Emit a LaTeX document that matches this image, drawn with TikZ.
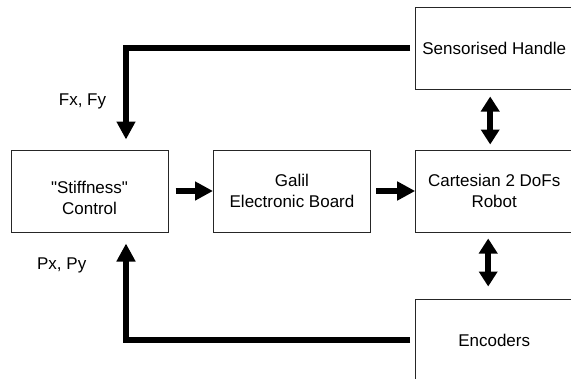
\documentclass[tikz,border=0pt]{standalone}
\usepackage{fontspec}
\setmainfont{Liberation Sans}
\usetikzlibrary{arrows.meta}
\definecolor{boxline}{gray}{0.15}

\begin{document}
\begin{tikzpicture}[x=1pt,y=-1pt,
	block/.style={draw=boxline, line width=1pt, minimum width=157pt, minimum height=82pt, inner sep=0pt},
	blocktext/.style={align=center, font=\fontsize{17}{21.5}\selectfont},
	flow/.style={line width=6pt, -{Triangle[width=18pt,length=18pt]}},
	both/.style={line width=6pt, {Triangle[width=18pt,length=15pt]}-{Triangle[width=18pt,length=15pt]}}]
	\useasboundingbox (0,0) rectangle (571,378);
	
	% Blocks
	\node[block] (stiff) at (89.5,191) {};
	\node[blocktext] (stifftext) at (89.5,198) {\textquotedbl Stiffness\textquotedbl\\Control};
	\node[block, blocktext] (galil) at (292,191) {Galil\\Electronic Board};
	\node[block, blocktext] (cart) at (494.2,191) {Cartesian 2 DoFs\\Robot};
	\node[block, blocktext] (handle) at (494.2,48) {Sensorised Handle};
	\node[block, blocktext] (enc) at (494.2,340) {Encoders};
	
	% Feedback labels
	\node[blocktext] (fxfy) at (82.5,101.7) {Fx, Fy};
	\node[blocktext] (pxpy) at (61.7,265) {Px, Py};
	
	% Signal flow
	\draw[flow, shorten <=7pt] (stiff) -- (galil);
	\draw[flow, shorten <=5pt] (galil) -- (cart);
	\draw[flow, shorten <=5pt, shorten >=10pt] (handle.west) -| ([xshift=36.5pt]stiff.north);
	\draw[flow, shorten <=5pt, shorten >=11pt] (enc.west) -| ([xshift=36.5pt]stiff.south);
	\draw[both, shorten <=7pt, shorten >=5pt] ([xshift=-4pt]handle.south) -- ([xshift=-4pt]cart.north);
	\draw[both, shorten <=6pt, shorten >=12pt] ([xshift=-6pt]cart.south) -- ([xshift=-6pt]enc.north);
\end{tikzpicture}
\end{document}
